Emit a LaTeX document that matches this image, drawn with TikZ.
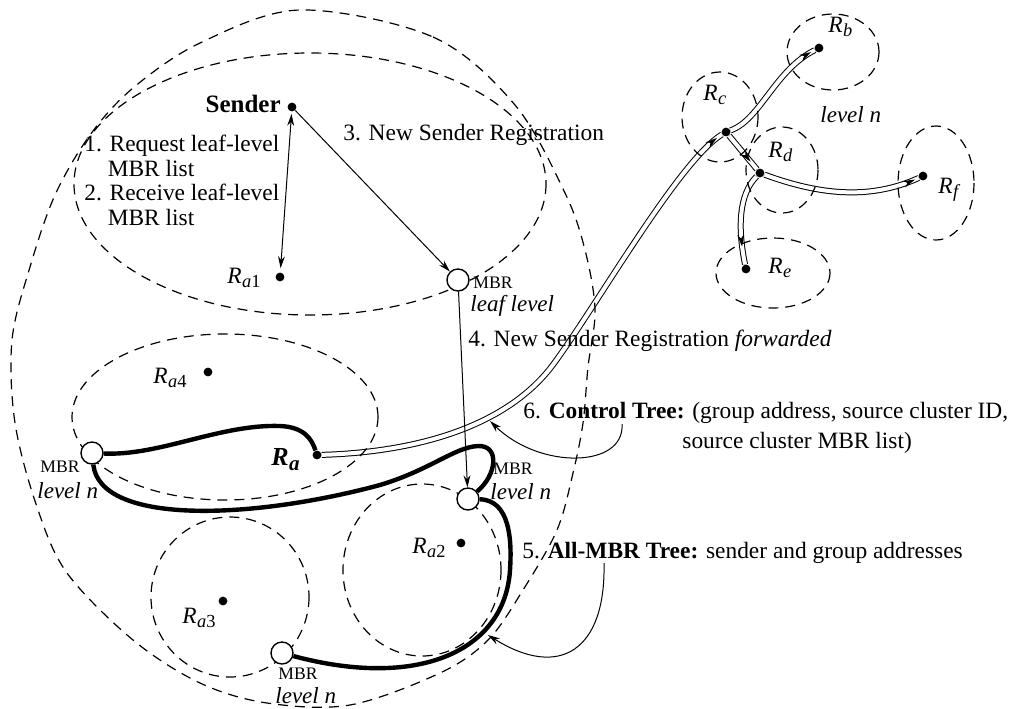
\documentclass[tikz,border=0pt]{standalone}
\usepackage{fontspec}
\setmainfont{Liberation Serif}
\usetikzlibrary{arrows.meta,decorations.markings}
\pgfdeclarelayer{lines}
\pgfdeclarelayer{regions}
\pgfsetlayers{lines,regions,main}
\newcommand{\Rl}[1]{\textit{R}\kern0.2pt\raisebox{-0.45ex}{\fontsize{9.2}{9.2}\selectfont #1}}
\begin{document}
\begin{tikzpicture}[x=0.5pt,y=-0.5pt,
 font=\fontsize{11.7}{12.2}\selectfont,
 dot/.style={circle,fill=black,inner sep=0pt,minimum size=4.4pt},
 mbr/.style={circle,draw=black,line width=0.7pt,fill=white,inner sep=0pt,minimum size=11pt},
 region/.style={draw=black,line width=0.6pt,dash pattern=on 5pt off 3.5pt},
 arr/.style={line width=0.5pt,-{Stealth[length=6pt,width=3.4pt]}},
 darr/.style={line width=0.5pt,{Stealth[length=6pt,width=3.4pt]}-{Stealth[length=6pt,width=3.4pt]}},
 tree/.style={line width=2.2pt},
 ctrl/.style={draw=black,line width=0.5pt,double=white,double distance=2pt},
 tipat/.style={decorate,decoration={markings,mark=at position #1 with {\arrow{Stealth[length=6pt,width=3.4pt]}}}},
 txt/.style={inner sep=0pt},
 small/.style={inner sep=0pt,font=\fontsize{8.8}{9}\selectfont},
 lvl/.style={inner sep=0pt,font=\fontsize{11.5}{12}\selectfont\itshape}]
\useasboundingbox (0,0) rectangle (1022,708);

% ---- nodes
\node[dot] (sender) at (292,107) {};
\node[dot] (ra1) at (280,277) {};
\node[mbr] (mbrleaf) at (458,280) {};
\node[dot] (ra4) at (208,372) {};
\node[dot] (ra) at (317,455) {};
\node[mbr] (mbrl) at (92,453) {};
\node[mbr] (mbrm) at (468,499) {};
\node[dot] (ra2) at (461,543) {};
\node[dot] (ra3) at (223,601) {};
\node[mbr] (mbrb) at (282,653) {};
\node[dot] (rb) at (819,48) {};
\node[dot] (rc) at (726,132) {};
\node[dot] (rd) at (760,173) {};
\node[dot] (re) at (746,269) {};
\node[dot] (rf) at (923,176) {};

% ---- regions
\begin{pgfonlayer}{regions}
\draw[region] plot[smooth cycle,tension=0.55] coordinates {
 (300,10) (433,37) (515,105) (565,193) (585,250) (595,310) (588,367) (583,423)
 (573,473) (557,530) (523,590) (488,640) (440,673) (350,705) (267,703) (200,683)
 (133,640) (67,573) (37,507) (15,423) (12,340) (30,267) (55,195) (90,135) (133,88) (200,43)};
\draw[region] (310,184) ellipse [x radius=236,y radius=131];
\draw[region] (225,417) ellipse [x radius=153,y radius=83];
\draw[region] (230,597) ellipse [x radius=79,y radius=80];
\draw[region] (422,570) ellipse [x radius=79,y radius=86];
\draw[region] (833,52) ellipse [x radius=46,y radius=38];
\draw[region] (720,117) ellipse [x radius=38,y radius=45];
\draw[region] (782,170) ellipse [x radius=36,y radius=43];
\draw[region] (773,273) ellipse [x radius=57,y radius=35];
\draw[region] (936,183) ellipse [x radius=38,y radius=57];
\end{pgfonlayer}

% ---- control tree (double lines) and all-MBR tree (thick)
\begin{pgfonlayer}{lines}
\draw[ctrl] (ra) .. controls (420,452) and (510,425) .. (555,362) .. controls (600,300) and (680,160) .. (rc);
\draw[ctrl] (rc) .. controls (760,120) and (775,70) .. (rb);
\draw[ctrl] (rc) -- (rd);
\draw[ctrl] (rd) .. controls (820,195) and (870,200) .. (rf);
\draw[ctrl] (rd) .. controls (738,195) and (738,230) .. (re);
\draw[tree] (mbrl) .. controls (160,456) and (220,424) .. (280,426) .. controls (305,427) and (312,440) .. (ra);
\draw[tree] (mbrl) .. controls (100,525) and (250,520) .. (380,485) .. controls (430,470) and (455,447) .. (478,446) .. controls (500,445) and (497,475) .. (mbrm);
\draw[tree] (mbrm) .. controls (510,500) and (512,540) .. (510,570) .. controls (505,650) and (420,690) .. (mbrb);
\end{pgfonlayer}
\path[tipat=-3pt] (ra) .. controls (420,452) and (510,425) .. (555,362) .. controls (600,300) and (680,160) .. (rc);
\path[tipat=-2pt] (rc) .. controls (760,120) and (775,70) .. (rb);
\path[tipat=-5pt] (rc) -- (rd);
\path[tipat=-2pt] (rd) .. controls (820,195) and (870,200) .. (rf);
\path[tipat=-9pt] (rd) .. controls (738,195) and (738,230) .. (re);

% ---- message arrows
\draw[darr,shorten <=1pt,shorten >=2pt] (sender) -- (ra1);
\draw[arr] (sender) -- (mbrleaf);
\draw[arr] (mbrleaf) -- (mbrm);
\coordinate (p6s) at (622,424);
\coordinate (p6e) at (490,421);
\draw[arr] (p6s) .. controls (625,468) and (540,470) .. (p6e);
\coordinate (p5s) at (604,563);
\coordinate (p5e) at (488,635);
\draw[arr] (p5s) .. controls (606,650) and (560,680) .. (p5e);

% ---- texts
\node[txt,anchor=base east,font=\fontsize{12.5}{13}\selectfont\bfseries] (lsender) at (281,112) {Sender};
\node[txt,anchor=north west,align=left] (l12) at (84,135)
 {1. Request leaf-level\\\phantom{1.\ }MBR list\\2. Receive leaf-level\\\phantom{2.\ }MBR list};
\node[txt,anchor=base west] (l3) at (343,140) {3. New Sender Registration};
\node[txt,anchor=base west] (l4) at (468,346) {4. New Sender Registration \textit{forwarded}};
\node[txt,anchor=base west] (l6a) at (523,418) {6. \textbf{Control Tree:} (group address, source cluster ID,};
\node[txt,anchor=base west] (l6b) at (682,448) {source cluster MBR list)};
\node[txt,anchor=base west] (l5) at (522,558) {5. \textbf{All-MBR Tree:} sender and group addresses};

\node[small,anchor=base west] (mlf1) at (473,288) {MBR};
\node[lvl,anchor=base west] (mlf2) at (470,311) {leaf level};
\node[small,anchor=base west] (ml1) at (40,472) {MBR};
\node[lvl,anchor=base west] (ml2) at (37,498) {level \textit{n}};
\node[small,anchor=base west] (mm1) at (493,474) {MBR};
\node[lvl,anchor=base west] (mm2) at (490,499) {level \textit{n}};
\node[small,anchor=base west] (mb1) at (278,679) {MBR};
\node[lvl,anchor=base west] (mb2) at (275,703) {level \textit{n}};
\node[lvl,anchor=base west] (lvb) at (820,122) {level \textit{n}};

\node[txt,anchor=base west] (lra1) at (227,283) {\Rl{\textit{a}1}};
\node[txt,anchor=base west] (lra4) at (153,383) {\Rl{\textit{a}4}};
\node[txt,anchor=base west] (lra) at (271,465) {\fontsize{13}{13}\selectfont\bfseries\textit{R}\kern0.2pt\raisebox{-0.45ex}{\fontsize{10.5}{10.5}\selectfont\textit{a}}};
\node[txt,anchor=base west] (lra2) at (412,553) {\Rl{\textit{a}2}};
\node[txt,anchor=base west] (lra3) at (182,623) {\Rl{\textit{a}3}};
\node[txt,anchor=base west] (lrb) at (828,32) {\Rl{\textit{b}}};
\node[txt,anchor=base west] (lrc) at (703,100) {\Rl{\textit{c}}};
\node[txt,anchor=base west] (lrd) at (768,157) {\Rl{\textit{d}}};
\node[txt,anchor=base west] (lre) at (768,273) {\Rl{\textit{e}}};
\node[txt,anchor=base west] (lrf) at (938,193) {\Rl{\textit{f}}};
\end{tikzpicture}
\end{document}
